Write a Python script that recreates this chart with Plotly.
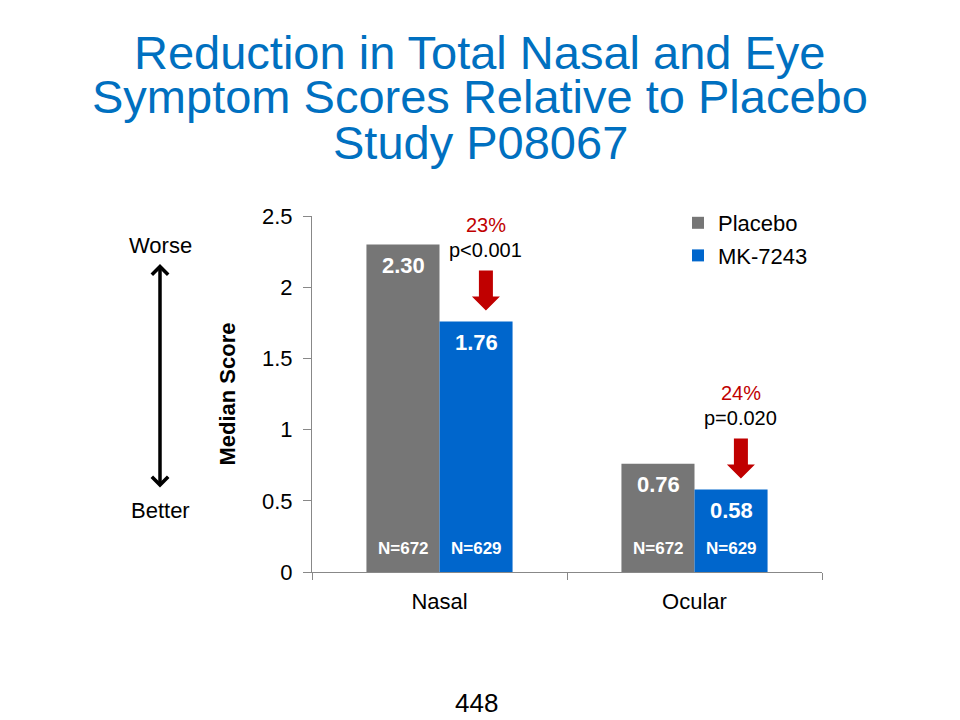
import plotly.graph_objects as go

categories = ["Nasal", "Ocular"]
placebo = [2.30, 0.76]
mk7243 = [1.76, 0.58]
n_placebo = [672, 672]
n_mk = [629, 629]
reductions = ["23%", "24%"]
pvalues = ["p<0.001", "p=0.020"]
title_lines = ["Reduction in Total Nasal and Eye",
               "Symptom Scores Relative to Placebo",
               "Study P08067"]
ytick_vals = [0, 0.5, 1, 1.5, 2, 2.5]
ytick_text = ["0", "0.5", "1", "1.5", "2", "2.5"]

GRAY = "#767676"
BLUE = "#0066CC"
RED = "#C00000"
TBLUE = "#0070C0"
FONT = "Liberation Sans, Arial, sans-serif"

# plot-area geometry (pixels)
L, R, T, B = 312, 822, 216, 572
PW, PH = R - L, B - T


def px(xp):
    return (xp - L) / PW


def py(yp):
    return (B - yp) / PH


fig = go.Figure()
fig.add_trace(go.Bar(x=categories, y=placebo, name="Placebo", marker_color=GRAY,
                     marker_line_width=0, legendgroup="a"))
fig.add_trace(go.Bar(x=categories, y=mk7243, name="MK-7243", marker_color=BLUE,
                     marker_line_width=0, legendgroup="b"))

ann = []
shapes = []
for i, c in enumerate(categories):
    for val, n, dx in ((placebo[i], n_placebo[i], -36.5), (mk7243[i], n_mk[i], 36.5)):
        ann.append(dict(x=c, y=val, xref="x", yref="y", text=f"<b>{val:.2f}</b>",
                        showarrow=False, xshift=dx, yanchor="middle", yshift=-21,
                        font=dict(size=22, color="white", family=FONT)))
        ann.append(dict(x=c, y=0, xref="x", yref="y", text=f"<b>N={n}</b>",
                        showarrow=False, xshift=dx, yanchor="middle", yshift=24,
                        font=dict(size=17, color="white", family=FONT)))
    # red block arrow above the MK bar
    ax = i + 0.182
    gap = 11
    path = ("M -7,{a} L 7,{a} L 7,{b} L 14,{b} L 0,{c} L -14,{b} L -7,{b} Z"
            .format(a=gap + 40, b=gap + 14, c=gap))
    shapes.append(dict(type="path", xref="x", yref="y", xsizemode="pixel", ysizemode="pixel",
                       xanchor=ax, yanchor=mk7243[i], path=path,
                       fillcolor=RED, line=dict(width=0)))
    ann.append(dict(x=ax, y=mk7243[i], xref="x", yref="y", text=reductions[i],
                    showarrow=False, xanchor="center", yanchor="middle", yshift=gap + 40 + 45,
                    font=dict(size=20, color=RED, family=FONT)))
    ann.append(dict(x=ax, y=mk7243[i], xref="x", yref="y", text=pvalues[i],
                    showarrow=False, xanchor="center", yanchor="middle", yshift=gap + 40 + 20,
                    font=dict(size=20, color="black", family=FONT)))

# title
for k, line in enumerate(title_lines):
    ann.append(dict(x=px(480), y=py(52 + 45 * k), xref="paper", yref="paper",
                    xanchor="center", yanchor="middle", showarrow=False, text=line,
                    font=dict(size=47, color=TBLUE, family=FONT)))

# Worse / Better double arrow
ann.append(dict(x=px(160), y=py(264), xref="paper", yref="paper", ax=0, ay=225,
                showarrow=True, arrowhead=4, startarrowhead=4, arrowside="end+start",
                arrowwidth=3.5, arrowsize=0.9, startarrowsize=0.9,
                arrowcolor="black", text=""))
ann.append(dict(x=px(160), y=py(245), xref="paper", yref="paper", text="Worse",
                showarrow=False, xanchor="center", yanchor="middle",
                font=dict(size=22, color="black", family=FONT)))
ann.append(dict(x=px(160), y=py(510), xref="paper", yref="paper", text="Better",
                showarrow=False, xanchor="center", yanchor="middle",
                font=dict(size=22, color="black", family=FONT)))
ann.append(dict(x=px(476), y=py(703), xref="paper", yref="paper", text="448",
                showarrow=False, xanchor="center", yanchor="middle",
                font=dict(size=26, color="black", family=FONT)))

fig.update_layout(
    width=960, height=720,
    margin=dict(l=L, r=960 - R, t=T, b=720 - B),
    paper_bgcolor="white", plot_bgcolor="white",
    barmode="group", bargap=0.427, bargroupgap=0,
    font=dict(family=FONT, size=22, color="black"),
    showlegend=True,
    legend=dict(x=px(678), y=py(202), xanchor="left", yanchor="top",
                font=dict(size=22, family=FONT, color="black"),
                traceorder="grouped", tracegroupgap=1, bgcolor="rgba(0,0,0,0)",
                itemwidth=30),
    xaxis=dict(showline=True, linecolor="#888888", linewidth=1, ticks="outside",
               tickson="boundaries", ticklen=7, tickcolor="#888888",
               ticklabelstandoff=10,
               tickfont=dict(size=22, family=FONT), showgrid=False),
    yaxis=dict(range=[0, 2.5], tickvals=ytick_vals, ticktext=ytick_text,
               showline=True, linecolor="#888888", linewidth=1, ticks="outside",
               ticklen=8, tickcolor="#888888", showgrid=False, zeroline=False,
               ticklabelstandoff=6,
               tickfont=dict(size=22, family=FONT),
               title=dict(text="<b>Median Score</b>", font=dict(size=22, family=FONT),
                          standoff=20)),
    annotations=ann,
    shapes=shapes,
)

fig.write_html("out.html")
